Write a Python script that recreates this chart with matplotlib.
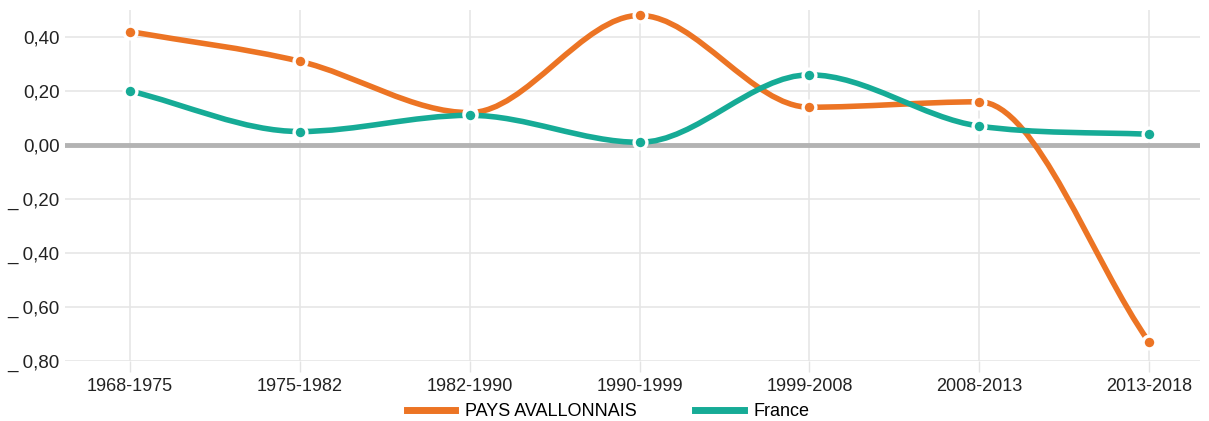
import numpy as np
import matplotlib
matplotlib.use("Agg")
import matplotlib.pyplot as plt
from matplotlib.path import Path
from matplotlib.patches import PathPatch
from matplotlib.lines import Line2D

plt.rcParams['font.family'] = ['Liberation Sans', 'DejaVu Sans']

# periods and annual change rates
periods = ["1968-1975", "1975-1982", "1982-1990", "1990-1999",
           "1999-2008", "2008-2013", "2013-2018"]
pays_avallonnais = [0.42, 0.31, 0.12, 0.48, 0.14, 0.16, -0.73]
france = [0.20, 0.05, 0.11, 0.01, 0.26, 0.07, 0.04]

y_ticks = [0.40, 0.20, 0.00, -0.20, -0.40, -0.60, -0.80]
y_labels = ["0,40", "0,20", "0,00", "_ 0,20", "_ 0,40", "_ 0,60", "_ 0,80"]

ORANGE = "#ec7424"
TEAL = "#16ab96"


def monotone_path(xs, ys):
    """Monotone cubic bezier path through the points (Chart.js style)."""
    xs = np.asarray(xs, float)
    ys = np.asarray(ys, float)
    n = len(xs)
    delta = np.diff(ys) / np.diff(xs)
    m = np.zeros(n)
    m[0] = delta[0]
    m[-1] = delta[-1]
    for i in range(1, n - 1):
        if delta[i - 1] * delta[i] <= 0:
            m[i] = 0
        else:
            m[i] = (delta[i - 1] + delta[i]) / 2
    for i in range(n - 1):
        if delta[i] == 0:
            m[i] = m[i + 1] = 0
            continue
        a = m[i] / delta[i]
        b = m[i + 1] / delta[i]
        mag = a * a + b * b
        if mag > 9:
            tau = 3 / np.sqrt(mag)
            m[i] = a * tau * delta[i]
            m[i + 1] = b * tau * delta[i]
    verts = [(xs[0], ys[0])]
    codes = [Path.MOVETO]
    for i in range(n - 1):
        dx = (xs[i + 1] - xs[i]) / 3
        verts += [(xs[i] + dx, ys[i] + m[i] * dx),
                  (xs[i + 1] - dx, ys[i + 1] - m[i + 1] * dx),
                  (xs[i + 1], ys[i + 1])]
        codes += [Path.CURVE4] * 3
    return Path(verts, codes)


fig = plt.figure(figsize=(12.09, 4.21), dpi=100)
ax = fig.add_axes([0.0538, 0.1425, 0.9388, 0.8337])

x = np.arange(len(periods))
ax.set_xlim(-0.383, 6.30)
ax.set_ylim(-0.80, 0.50)

for s in ax.spines.values():
    s.set_visible(False)

ax.set_yticks(y_ticks)
ax.set_yticklabels(y_labels)
ax.set_xticks(x)
ax.set_xticklabels(periods)
ax.tick_params(axis='y', length=0, pad=4, labelsize=13.5, labelcolor='#222222')
ax.tick_params(axis='x', length=8, color='#e3e3e3', width=1, pad=4,
               labelsize=13, labelcolor='#222222')
ax.grid(True, color='#e6e6e6', linewidth=1.2, zorder=0)
# zero baseline on top of the grid
ax.axhline(0, color='#b3b3b3', linewidth=3.5, zorder=2)

for vals, col in [(pays_avallonnais, ORANGE), (france, TEAL)]:
    patch = PathPatch(monotone_path(x, vals), facecolor='none', edgecolor=col,
                      linewidth=4, capstyle='round', zorder=3)
    ax.add_patch(patch)
    ax.scatter(x, vals, s=85, color=col, edgecolors='white', linewidths=2.4,
               zorder=4, clip_on=False)

handles = [Line2D([], [], color=ORANGE, linewidth=5),
           Line2D([], [], color=TEAL, linewidth=5)]
fig.legend(handles, ["PAYS AVALLONNAIS", "France"], loc='center',
           bbox_to_anchor=(0.503, 0.022), ncol=2, frameon=False, fontsize=13,
           handlelength=2.7, handletextpad=0.55, columnspacing=3.2)

fig.savefig("out.png", dpi=100, facecolor='white')
